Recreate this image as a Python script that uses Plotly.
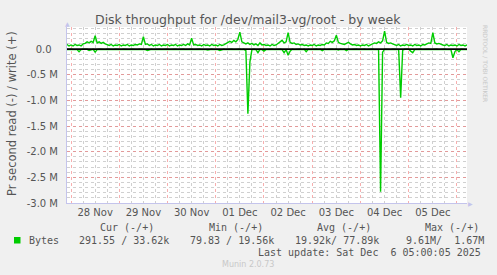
import pandas as pd
import plotly.graph_objects as go

# ---- data (values in M bytes/s) ----
write_nov27 = [0.07, 0.09, 0.06]
write_nov28 = [0.08, 0.06, 0.09, 0.07, 0.08, 0.06, 0.10, 0.11, 0.14, 0.12, 0.15, 0.13,
               0.26, 0.12, 0.14, 0.11, 0.13, 0.10, 0.09, 0.07, 0.09, 0.06, 0.08, 0.07]
write_nov29 = [0.09, 0.06, 0.08, 0.07, 0.09, 0.06, 0.08, 0.07, 0.09, 0.08, 0.10, 0.09,
               0.24, 0.09, 0.10, 0.07, 0.09, 0.06, 0.08, 0.07, 0.09, 0.06, 0.08, 0.07]
write_nov30 = [0.09, 0.06, 0.08, 0.07, 0.09, 0.06, 0.08, 0.07, 0.09, 0.07, 0.10, 0.08,
               0.21, 0.08, 0.09, 0.07, 0.08, 0.06, 0.09, 0.07, 0.08, 0.06, 0.09, 0.07]
write_dec01 = [0.08, 0.06, 0.09, 0.07, 0.08, 0.10, 0.12, 0.15, 0.13, 0.17, 0.14, 0.19,
               0.33, 0.14, 0.12, 0.10, 0.12, 0.09, 0.11, 0.08, 0.10, 0.07, 0.12, 0.08]
write_dec02 = [0.09, 0.07, 0.08, 0.06, 0.09, 0.07, 0.08, 0.11, 0.13, 0.17, 0.12, 0.14,
               0.32, 0.13, 0.11, 0.12, 0.09, 0.10, 0.08, 0.09, 0.07, 0.08, 0.06, 0.08]
write_dec03 = [0.07, 0.09, 0.06, 0.08, 0.07, 0.09, 0.08, 0.12, 0.11, 0.15, 0.13, 0.16,
               0.27, 0.13, 0.11, 0.10, 0.09, 0.11, 0.13, 0.10, 0.08, 0.09, 0.07, 0.08]
write_dec04 = [0.06, 0.08, 0.07, 0.09, 0.06, 0.08, 0.10, 0.12, 0.11, 0.14, 0.12, 0.16,
               0.35, 0.13, 0.11, 0.12, 0.10, 0.09, 0.07, 0.09, 0.06, 0.08, 0.07, 0.09]
write_dec05 = [0.07, 0.08, 0.06, 0.09, 0.07, 0.08, 0.06, 0.09, 0.08, 0.10, 0.12, 0.11,
               0.32, 0.12, 0.10, 0.11, 0.09, 0.08, 0.07, 0.09, 0.06, 0.08, 0.07, 0.08]
write_dec06 = [0.06, 0.09, 0.07, 0.08, 0.06, 0.08]

read_nov27 = [-0.010, -0.005, -0.010]
read_nov28 = [-0.005, -0.010, -0.005, -0.010, -0.050, -0.010, -0.005, -0.010, -0.005, -0.030, -0.010, -0.005,
              -0.060, -0.010, -0.005, -0.010, -0.005, -0.010, -0.005, -0.010, -0.005, -0.010, -0.005, -0.010]
read_nov29 = [-0.005, -0.010, -0.005, -0.010, -0.005, -0.010, -0.005, -0.010, -0.005, -0.010, -0.005, -0.010,
              -0.005, -0.010, -0.030, -0.010, -0.005, -0.010, -0.005, -0.010, -0.005, -0.010, -0.005, -0.010]
read_nov30 = [-0.005, -0.010, -0.005, -0.010, -0.005, -0.010, -0.005, -0.010, -0.005, -0.010, -0.005, -0.010,
              -0.005, -0.010, -0.005, -0.010, -0.005, -0.010, -0.005, -0.010, -0.020, -0.010, -0.005, -0.010]
read_dec01 = [-0.005, -0.010, -0.030, -0.010, -0.005, -0.010, -0.005, -0.010, -0.005, -0.010, -0.005, -0.010,
              -0.005, -0.010, -0.005, -0.030, -1.260, -0.250, -0.010, -0.005, -0.010, -0.070, -0.005, -0.010]
read_dec02 = [-0.040, -0.010, -0.005, -0.010, -0.005, -0.010, -0.005, -0.010, -0.005, -0.010, -0.070, -0.010,
              -0.120, -0.040, -0.005, -0.010, -0.005, -0.010, -0.005, -0.010, -0.005, -0.050, -0.005, -0.010]
read_dec03 = [-0.005, -0.010, -0.005, -0.010, -0.005, -0.030, -0.005, -0.010, -0.005, -0.010, -0.005, -0.010,
              -0.005, -0.020, -0.005, -0.010, -0.005, -0.030, -0.005, -0.010, -0.005, -0.010, -0.005, -0.010]
read_dec04 = [-0.005, -0.010, -0.005, -0.010, -0.005, -0.010, -0.005, -0.010, -0.005, -0.010, -2.780, -0.060,
              -0.005, -0.010, -0.005, -0.010, -0.005, -0.010, -0.005, -0.010, -0.950, -0.020, -0.005, -0.010]
read_dec05 = [-0.005, -0.040, -0.070, -0.010, -0.005, -0.010, -0.005, -0.010, -0.005, -0.010, -0.005, -0.010,
              -0.005, -0.010, -0.005, -0.010, -0.005, -0.010, -0.005, -0.010, -0.005, -0.010, -0.170, -0.050]
read_dec06 = [-0.010, -0.050, -0.005, -0.010, -0.005, -0.010]

start_time = "2025-11-27 21:00"
view_start = "2025-11-27 22:00"
view_end = "2025-12-06 05:00"

day_label_vals = ["2025-11-28 12:00", "2025-11-29 12:00", "2025-11-30 12:00", "2025-12-01 12:00",
                  "2025-12-02 12:00", "2025-12-03 12:00", "2025-12-04 12:00", "2025-12-05 12:00"]
day_label_text = ["28 Nov", "29 Nov", "30 Nov", "01 Dec", "02 Dec", "03 Dec", "04 Dec", "05 Dec"]

y_tick_vals = [0.0, -0.5, -1.0, -1.5, -2.0, -2.5, -3.0]
y_tick_text = ["0.0\u00a0\u00a0", "-0.5 M", "-1.0 M", "-1.5 M", "-2.0 M", "-2.5 M", "-3.0 M"]

legend_headers = ["Cur (-/+)", "Min (-/+)", "Avg (-/+)", "Max (-/+)"]
legend_values = ["291.55 / 33.62k", "79.83 / 19.56k", "19.92k/ 77.89k", "9.61M/  1.67M"]
series_name = "Bytes"
last_update = "Last update: Sat Dec  6 05:00:05 2025"

# ---- build ----
write = (write_nov27 + write_nov28 + write_nov29 + write_nov30 + write_dec01 +
         write_dec02 + write_dec03 + write_dec04 + write_dec05 + write_dec06)
read = (read_nov27 + read_nov28 + read_nov29 + read_nov30 + read_dec01 +
        read_dec02 + read_dec03 + read_dec04 + read_dec05 + read_dec06)
times = pd.date_range(start_time, periods=len(write), freq="h")

W, H = 497, 275
L, R, T, B = 67, 30, 27, 72
PW, PH = W - L - R, H - T - B

def px(x):
    return (x - L) / PW

def py(y):
    return (H - B - y) / PH

GREEN = "#00cc00"
TXT = "#555555"
MAJ = "rgba(240,110,110,0.55)"
MIN = "rgba(150,150,150,0.45)"

fig = go.Figure()
fig.add_trace(go.Scatter(x=times, y=read, mode="lines", line=dict(color=GREEN, width=1.4),
                         showlegend=False, hoverinfo="skip"))
fig.add_trace(go.Scatter(x=times, y=write, mode="lines", line=dict(color=GREEN, width=1.4),
                         showlegend=False, hoverinfo="skip"))
fig.add_trace(go.Scatter(x=[], y=[], xaxis="x2", showlegend=False))

fig.add_hline(y=0, line=dict(color="black", width=1.8), layer="above")

fig.update_layout(
    width=W, height=H,
    margin=dict(l=L, r=R, t=T, b=B),
    paper_bgcolor="#f0f0f0",
    plot_bgcolor="#ffffff",
    font=dict(family="DejaVu Sans", color=TXT, size=10),
    xaxis=dict(
        type="date", range=[view_start, view_end],
        tick0="2025-11-28", dtick=86400000,
        showgrid=True, gridcolor=MAJ, griddash="dot", gridwidth=1,
        showticklabels=False, ticks="",
        minor=dict(tick0="2025-11-28", dtick=6 * 3600000, showgrid=True,
                   gridcolor=MIN, griddash="dot", gridwidth=1),
        showline=True, linecolor="#c4c4ec", linewidth=1,
        zeroline=False,
    ),
    xaxis2=dict(
        type="date", range=[view_start, view_end], overlaying="x", side="bottom",
        anchor="y", tickmode="array", tickvals=day_label_vals, ticktext=day_label_text,
        showgrid=False, ticks="", ticklabelstandoff=2,
        tickfont=dict(size=10, color=TXT, family="DejaVu Sans"),
    ),
    yaxis=dict(
        range=[-3.0, 0.43],
        tickmode="array", tickvals=y_tick_vals, ticktext=y_tick_text,
        showgrid=True, gridcolor=MAJ, griddash="dot", gridwidth=1,
        minor=dict(tickmode="linear", tick0=0, dtick=0.1, showgrid=True,
                   gridcolor=MIN, griddash="dot", gridwidth=1),
        ticks="", ticklabelstandoff=6,
        showline=True, linecolor="#c4c4ec", linewidth=1,
        zeroline=False,
        tickfont=dict(size=10, color=TXT, family="DejaVu Sans"),
    ),
)

ann = []
# title
ann.append(dict(text="Disk throughput for /dev/mail3-vg/root - by week", x=px(248), y=py(20),
                xref="paper", yref="paper", xanchor="center", yanchor="middle", showarrow=False,
                font=dict(size=12.5, color=TXT, family="DejaVu Sans")))
# y axis title
ann.append(dict(text="Pr second read (-) / write (+)", x=px(12), y=py(114), textangle=-90,
                xref="paper", yref="paper", xanchor="center", yanchor="middle", showarrow=False,
                font=dict(size=11.5, color=TXT, family="DejaVu Sans")))
# rrdtool watermark
ann.append(dict(text="RRDTOOL / TOBI OETIKER", x=px(486), y=py(63), textangle=90,
                xref="paper", yref="paper", xanchor="center", yanchor="middle", showarrow=False,
                font=dict(size=6, color="#c8c8c8", family="DejaVu Sans")))
# axis arrows
ann.append(dict(text="\u25b2", x=px(67), y=py(24), xref="paper", yref="paper", xanchor="center",
                yanchor="middle", showarrow=False, font=dict(size=6, color="#c4c4ec")))
ann.append(dict(text="\u25b6", x=px(470), y=py(203), xref="paper", yref="paper", xanchor="center",
                yanchor="middle", showarrow=False, font=dict(size=6, color="#c4c4ec")))

mono = dict(family="DejaVu Sans Mono", size=10, color=TXT)

def nb(s):
    return s.replace(" ", "\u00a0")

hdr_x = [98, 207, 315, 423]
for h, xx in zip(legend_headers, hdr_x):
    ann.append(dict(text=nb(h), x=px(xx), y=py(227.5), xref="paper", yref="paper",
                    xanchor="left", yanchor="middle", showarrow=False, font=mono))
val_x = [77, 188, 293, 404]
for v, xx in zip(legend_values, val_x):
    ann.append(dict(text=nb(v), x=px(xx), y=py(240), xref="paper", yref="paper",
                    xanchor="left", yanchor="middle", showarrow=False, font=mono))
ann.append(dict(text=nb(series_name), x=px(27), y=py(240), xref="paper", yref="paper",
                xanchor="left", yanchor="middle", showarrow=False, font=mono))
ann.append(dict(text=nb(last_update), x=px(483), y=py(252), xref="paper", yref="paper",
                xanchor="right", yanchor="middle", showarrow=False, font=mono))
ann.append(dict(text="Munin 2.0.73", x=px(248), y=py(264.5), xref="paper", yref="paper",
                xanchor="center", yanchor="middle", showarrow=False,
                font=dict(family="DejaVu Sans", size=8, color="#c8c8c8")))
fig.update_layout(annotations=ann)

fig.add_shape(type="rect", xref="paper", yref="paper", x0=px(14), x1=px(20.5),
              y0=py(243.5), y1=py(237), fillcolor=GREEN, line=dict(width=0))

fig.write_html("out.html")
